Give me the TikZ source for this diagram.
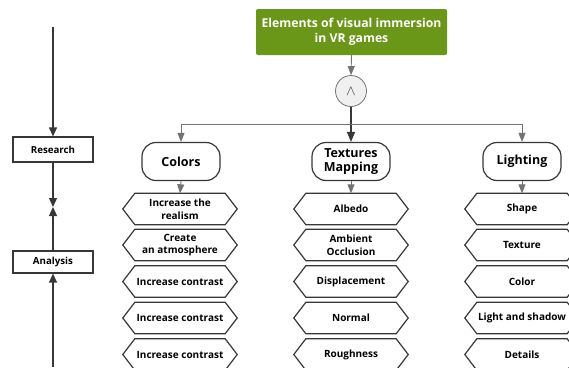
\documentclass[tikz,border=0pt]{standalone}
\usepackage{fontspec}
\setmainfont{Open Sans}
\usetikzlibrary{positioning}
\usetikzlibrary{arrows.meta}
\usepackage{xcolor}
\definecolor{titlegreen}{RGB}{107,151,24}
\definecolor{linegray}{RGB}{115,115,115}
\definecolor{boxdark}{RGB}{55,55,55}

\newcommand{\hexframe}[1]{\draw[hexline] (#1.north west)--(#1.north east)--([xshift=12pt]#1.east)--(#1.south east)--(#1.south west)--([xshift=-12pt]#1.west)--cycle;}

\begin{document}
\begin{tikzpicture}[x=1pt, y=-1pt,
  stagebox/.style={draw=boxdark, line width=1.2pt, fill=white, font=\fontsize{9.7}{11}\selectfont\bfseries, minimum width=80pt, inner sep=0pt},
  titlebox/.style={fill=titlegreen, text=white, rounded corners=2pt, font=\fontsize{12.2}{15}\selectfont\bfseries, align=center, minimum width=191pt, minimum height=46pt},
  andnode/.style={circle, draw=linegray, fill=gray!12, line width=0.8pt, minimum size=31pt, inner sep=0pt, text=boxdark, font=\Large},
  catbox/.style={draw=boxdark, line width=1.2pt, rounded corners=14pt, fill=white, font=\fontsize{12.5}{14}\selectfont\bfseries, align=center, minimum width=78pt, minimum height=38pt, inner sep=0pt},
  hexbox/.style={font=\fontsize{10}{12.5}\selectfont\bfseries, align=center, minimum width=90pt, minimum height=31pt, inner xsep=0pt, inner ysep=1pt},
  hexline/.style={draw=boxdark, line width=1.2pt, line join=miter},
  stagearrow/.style={draw=boxdark, line width=1.3pt, -{Triangle[length=9pt,width=8pt]}},
  treearrow/.style={draw=linegray, line width=0.9pt, -{Triangle[length=9pt,width=7pt]}},
  mainarrow/.style={draw=boxdark, line width=1.4pt, -{Triangle[length=10pt,width=8pt]}}]

\useasboundingbox (0,0) rectangle (569,367);

% left stages
\coordinate (top) at (53,27);
\coordinate (meet) at (53,207);
\coordinate (bottom) at (53,367);
\node[stagebox, minimum height=25pt] (research) at (53,149.5) {Research};
\node[stagebox, minimum height=22pt] (analysis) at (53,262) {Analysis};

\draw[stagearrow] (top)--(research.north);
\draw[stagearrow] (research.south)--(meet);
\draw[stagearrow] (analysis.north)--(meet);
\draw[stagearrow] (bottom)--(analysis.south);

% title and branches
\node[titlebox] (title) at (351.5,32) {Elements of visual immersion\\in VR games};
\node[andnode] (and) at (351,91) {$\wedge$};
\coordinate (fork) at (351,124);

\node[catbox] (colors) at (181,161.5) {Colors};
\node[catbox] (textures) at (351,161.5) {Textures\\Mapping};
\node[catbox] (lighting) at (522,161.5) {Lighting};

\draw[treearrow] (title.south)--(and.north);
\draw[mainarrow] (and.south)--(textures.north);
\draw[treearrow] (fork)-|(colors.north);
\draw[treearrow] (fork)-|(lighting.north);

% colors column
\node[hexbox] (c1) at (180,209) {Increase the\\realism};
\node[hexbox] (c2) at (180,245) {Create\\an atmosphere};
\node[hexbox] (c3) at (180,281.5) {Increase contrast};
\node[hexbox] (c4) at (180,318) {Increase contrast};
\node[hexbox] (c5) at (180,354.5) {Increase contrast};

% textures column
\node[hexbox] (t1) at (351,209) {Albedo};
\node[hexbox] (t2) at (351,245) {Ambient\\Occlusion};
\node[hexbox] (t3) at (351,281.5) {Displacement};
\node[hexbox] (t4) at (351,318) {Normal};
\node[hexbox] (t5) at (351,354.5) {Roughness};

% lighting column
\node[hexbox] (l1) at (522,209) {Shape};
\node[hexbox] (l2) at (522,245) {Texture};
\node[hexbox] (l3) at (522,281.5) {Color};
\node[hexbox] (l4) at (522,318) {Light and shadow};
\node[hexbox] (l5) at (522,354.5) {Details};

% hexagon outlines
\hexframe{c1} \hexframe{c2} \hexframe{c3} \hexframe{c4} \hexframe{c5}
\hexframe{t1} \hexframe{t2} \hexframe{t3} \hexframe{t4} \hexframe{t5}
\hexframe{l1} \hexframe{l2} \hexframe{l3} \hexframe{l4} \hexframe{l5}

\draw[treearrow] (colors.south)--(c1.north);
\draw[treearrow] (textures.south)--(t1.north);
\draw[treearrow] (lighting.south)--(l1.north);

\end{tikzpicture}
\end{document}
